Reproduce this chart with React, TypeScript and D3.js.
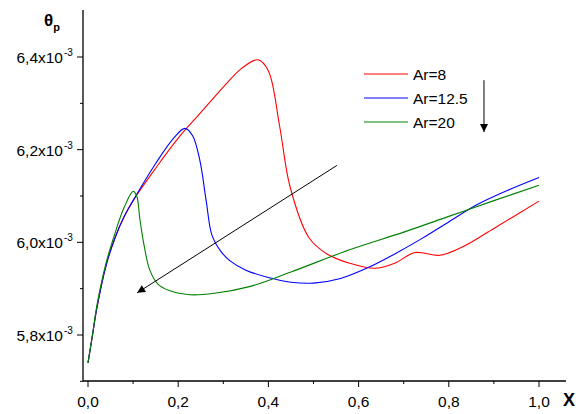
import { useEffect, useRef } from "react";
import * as d3 from "d3";

// x values / theta_p (x1e-3)
const redX = [0, 0.01, 0.02, 0.04, 0.06, 0.08, 0.1, 0.15, 0.2, 0.25, 0.3, 0.34, 0.377, 0.4, 0.425, 0.448, 0.49, 0.53, 0.58, 0.636, 0.68, 0.725, 0.78, 0.83, 0.9, 1.0];
const redY = [5.74, 5.8, 5.86, 5.95, 6.01, 6.055, 6.09, 6.16, 6.225, 6.28, 6.335, 6.375, 6.394, 6.37, 6.25, 6.12, 6.01, 5.975, 5.955, 5.944, 5.955, 5.978, 5.972, 5.99, 6.03, 6.089];
const blueX = [0, 0.01, 0.02, 0.04, 0.06, 0.08, 0.1, 0.15, 0.19, 0.215, 0.232, 0.248, 0.262, 0.275, 0.295, 0.315, 0.35, 0.4, 0.45, 0.5, 0.56, 0.62, 0.68, 0.74, 0.8, 0.86, 0.93, 1.0];
const blueY = [5.74, 5.8, 5.86, 5.95, 6.01, 6.055, 6.09, 6.17, 6.225, 6.246, 6.23, 6.177, 6.09, 6.015, 5.98, 5.96, 5.94, 5.924, 5.914, 5.912, 5.922, 5.945, 5.975, 6.008, 6.044, 6.08, 6.112, 6.14];
const greenX = [0, 0.01, 0.02, 0.04, 0.06, 0.08, 0.1, 0.108, 0.115, 0.125, 0.137, 0.155, 0.18, 0.226, 0.28, 0.36, 0.45, 0.58, 0.7, 0.8, 0.9, 1.0];
const greenY = [5.74, 5.8, 5.865, 5.955, 6.02, 6.075, 6.11, 6.1, 6.05, 5.99, 5.94, 5.91, 5.896, 5.887, 5.89, 5.905, 5.936, 5.984, 6.022, 6.056, 6.09, 6.123];

const series = [
  { name: "Ar=8", color: "#ff0000", xs: redX, ys: redY },
  { name: "Ar=12.5", color: "#0000ff", xs: blueX, ys: blueY },
  { name: "Ar=20", color: "#008000", xs: greenX, ys: greenY },
];

const xTicks = [0, 0.2, 0.4, 0.6, 0.8, 1.0];
const yTicks = [5.8, 6.0, 6.2, 6.4];

export default function App() {
  const svgRef = useRef<SVGSVGElement>(null);

  useEffect(() => {
    const svg = d3.select(svgRef.current);
    svg.selectAll("*").remove();

    const x = d3.scaleLinear().domain([0, 1]).range([88, 539]);
    const y = d3.scaleLinear().domain([5.8, 6.4]).range([335, 57]);
    const left = 83, bottom = 381, top = 10, right = 566;
    const font = "'Liberation Sans', Arial, sans-serif";

    // defs for arrowheads
    svg.append("defs").append("marker")
      .attr("id", "ah").attr("viewBox", "0 0 10 10").attr("refX", 10).attr("refY", 5)
      .attr("markerWidth", 10).attr("markerHeight", 8).attr("markerUnits", "userSpaceOnUse")
      .attr("orient", "auto")
      .append("path").attr("d", "M0,0 L10,5 L0,10 z").attr("fill", "#000");

    // axes lines
    svg.append("line").attr("x1", left).attr("x2", left).attr("y1", top).attr("y2", bottom)
      .attr("stroke", "#000").attr("stroke-width", 1.3);
    svg.append("line").attr("x1", left).attr("x2", right).attr("y1", bottom).attr("y2", bottom)
      .attr("stroke", "#000").attr("stroke-width", 1.3);

    // x ticks
    d3.range(0, 11).forEach((i) => {
      const v = i / 10;
      const major = i % 2 === 0;
      svg.append("line").attr("x1", x(v)).attr("x2", x(v)).attr("y1", bottom)
        .attr("y2", bottom + (major ? 6 : 3)).attr("stroke", "#000");
    });
    svg.selectAll(".xl").data(xTicks).enter().append("text")
      .attr("x", (d) => x(d)).attr("y", bottom + 26).attr("text-anchor", "middle")
      .attr("font-family", font).attr("font-size", 15.5)
      .text((d) => d3.format(".1f")(d).replace(".", ","));
    svg.append("text").attr("x", 563).attr("y", bottom + 25).attr("font-family", font)
      .attr("font-size", 18).attr("font-weight", "bold").text("X");

    // y ticks
    d3.range(0, 8).forEach((i) => {
      const v = 5.7 + i * 0.1;
      const major = i % 2 === 1;
      svg.append("line").attr("x1", left).attr("x2", left - (major ? 6 : 3))
        .attr("y1", y(v)).attr("y2", y(v)).attr("stroke", "#000");
    });
    const yl = svg.selectAll(".yl").data(yTicks).enter().append("text")
      .attr("x", left - 20).attr("y", (d) => y(d) + 6).attr("text-anchor", "end")
      .attr("font-family", font).attr("font-size", 15.5);
    yl.append("tspan").text((d) => d3.format(".1f")(d).replace(".", ",") + "x10");
    svg.selectAll(".ye").data(yTicks).enter().append("text")
      .attr("x", left - 19).attr("y", (d) => y(d) - 1)
      .attr("font-family", font).attr("font-size", 10).text("-3");

    const yt = svg.append("text").attr("x", 44).attr("y", 26).attr("font-family", font)
      .attr("font-weight", "bold").attr("font-size", 17);
    yt.append("tspan").text("θ");
    yt.append("tspan").attr("dy", 5).attr("font-size", 11).text("p");

    // curves
    const line = d3.line<[number, number]>().x((d) => x(d[0])).y((d) => y(d[1]))
      .curve(d3.curveCatmullRom.alpha(0.5));
    series.forEach((s) => {
      svg.append("path").attr("d", line(s.xs.map((v, i) => [v, s.ys[i]] as [number, number])))
        .attr("fill", "none").attr("stroke", s.color).attr("stroke-width", 1.1);
    });

    // legend
    series.forEach((s, i) => {
      const ly = 74 + i * 24;
      svg.append("line").attr("x1", 364).attr("x2", 408).attr("y1", ly).attr("y2", ly)
        .attr("stroke", s.color).attr("stroke-width", 1.1);
      svg.append("text").attr("x", 413).attr("y", ly + 6).attr("font-family", font)
        .attr("font-size", 15.5).text(s.name);
    });

    // arrows
    svg.append("line").attr("x1", x(0.552)).attr("y1", y(6.166)).attr("x2", x(0.109)).attr("y2", y(5.891))
      .attr("stroke", "#000").attr("marker-end", "url(#ah)");
    svg.append("line").attr("x1", x(0.878)).attr("y1", y(6.35)).attr("x2", x(0.878)).attr("y2", y(6.238))
      .attr("stroke", "#000").attr("marker-end", "url(#ah)");
  }, []);

  return (
    <svg ref={svgRef} width={583} height={414}
      style={{ position: "absolute", left: 0, top: 0, background: "#fff" }} />
  );
}
